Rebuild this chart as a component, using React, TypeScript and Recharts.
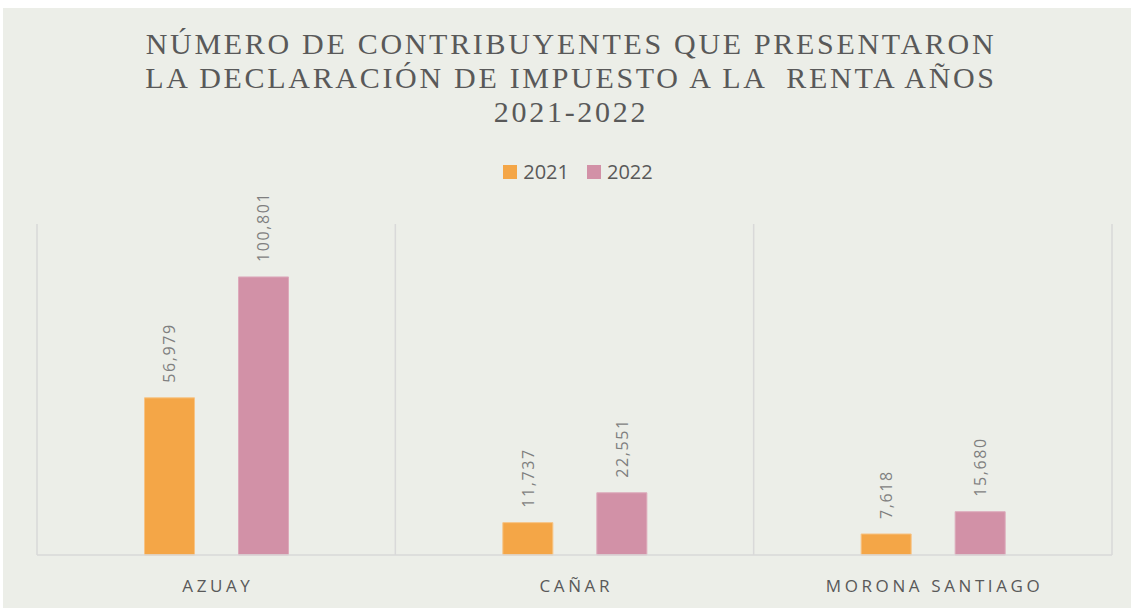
import React from "react";
import { BarChart, Bar, XAxis, YAxis, CartesianGrid, Legend, LabelList } from "recharts";

const provinces = ["AZUAY", "CAÑAR", "MORONA SANTIAGO"];
const values2021 = [56979, 11737, 7618];
const values2022 = [100801, 22551, 15680];
const titleLines = [
  "NÚMERO DE CONTRIBUYENTES QUE PRESENTARON",
  "LA DECLARACIÓN DE IMPUESTO A LA  RENTA AÑOS",
  "2021-2022",
];

const data = provinces.map((p, i) => ({ name: p, y2021: values2021[i], y2022: values2022[i] }));

const textGrey = "#595959";
const labelGrey = "#7f7f7f";
const sans = "'Open Sans', 'Liberation Sans', sans-serif";

// rotated value labels above the bars
function ValueLabel(props: any) {
  const { x, y, width, value } = props;
  const cx = x + width / 2;
  const cy = y - 15;
  return (
    <text
      x={cx}
      y={cy}
      transform={`rotate(-90, ${cx}, ${cy})`}
      textAnchor="start"
      dominantBaseline="central"
      fill={labelGrey}
      fontSize={16}
      fontFamily={sans}
      letterSpacing={1.6}
    >
      {Number(value).toLocaleString("en-US")}
    </text>
  );
}

function CategoryTick(props: any) {
  const { x, y, payload } = props;
  return (
    <text
      x={x + 1.75}
      y={y}
      dy={35}
      textAnchor="middle"
      fill={textGrey}
      fontSize={17}
      fontFamily={sans}
      letterSpacing={3.6}
    >
      {payload.value}
    </text>
  );
}

function LegendContent(props: any) {
  const items = props.payload || [];
  return (
    <div style={{ display: "flex", justifyContent: "center", alignItems: "center", fontFamily: sans, fontSize: 20, color: textGrey }}>
      {items.map((it: any, i: number) => (
        <div key={i} style={{ display: "flex", alignItems: "center", marginRight: i < items.length - 1 ? 18 : 0 }}>
          <span style={{ display: "inline-block", width: 14, height: 14, background: it.color, marginRight: 6 }} />
          <span>{it.value}</span>
        </div>
      ))}
    </div>
  );
}

export default function App() {
  return (
    <div style={{ position: "absolute", left: 0, top: 0, width: 1131, height: 608, background: "#ffffff" }}>
      <div style={{ position: "absolute", left: 3, top: 8, width: 1128, height: 600, background: "#ECEEE8" }}>
        <div
          style={{
            position: "absolute",
            left: 0,
            top: 19,
            width: 1136,
            textAlign: "center",
            fontFamily: "'Liberation Serif', 'Times New Roman', serif",
            fontSize: 30,
            lineHeight: "34px",
            letterSpacing: 2.7,
            color: textGrey,
            whiteSpace: "pre",
          }}
        >
          {titleLines.map((l, i) => (
            <div key={i}>{l}</div>
          ))}
        </div>
        <BarChart
          width={1128}
          height={600}
          data={data}
          margin={{ top: 216, right: 19, left: 34, bottom: 13 }}
          barGap={44}
          barCategoryGap="30%"
        >
          <CartesianGrid
            horizontal={false}
            stroke="#d9d9d9"
            strokeWidth={1.5}
            verticalCoordinatesGenerator={({ offset }: any) =>
              [0, 1, 2, 3].map((k) => offset.left + (offset.width * k) / provinces.length)
            }
          />
          <XAxis
            dataKey="name"
            height={40}
            axisLine={{ stroke: "#d9d9d9", strokeWidth: 1.5 }}
            tickLine={false}
            tickSize={0}
            tick={<CategoryTick />}
            interval={0}
          />
          <YAxis hide domain={[0, 120000]} />
          <Legend
            verticalAlign="middle"
            align="center"
            layout="horizontal"
            wrapperStyle={{ top: 150, left: 75, width: 1000 }}
            content={<LegendContent />}
          />
          <Bar dataKey="y2021" name="2021" fill="#F4A647" stroke="#F7C384" strokeWidth={1} isAnimationActive={false}>
            <LabelList dataKey="y2021" content={<ValueLabel />} />
          </Bar>
          <Bar dataKey="y2022" name="2022" fill="#D291A7" stroke="#DDAABB" strokeWidth={1} isAnimationActive={false}>
            <LabelList dataKey="y2022" content={<ValueLabel />} />
          </Bar>
        </BarChart>
      </div>
    </div>
  );
}
